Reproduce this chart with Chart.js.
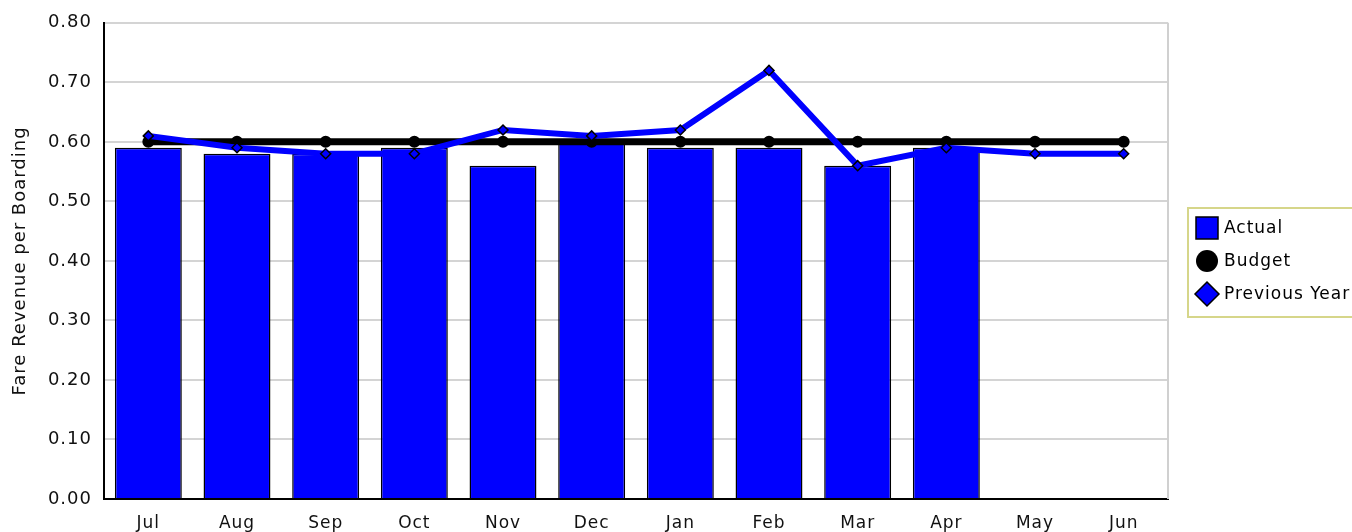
<!DOCTYPE html>
<html>
<head>
<meta charset="utf-8">
<script src="https://cdn.jsdelivr.net/npm/chart.js@4"></script>
<style>
  html, body { margin: 0; padding: 0; background: #fff; overflow: hidden; }
  #wrap { width: 1352px; height: 532px; position: relative; }
</style>
</head>
<body>
<div id="wrap"><canvas id="myChart"></canvas></div>
<script>
const months = ['Jul', 'Aug', 'Sep', 'Oct', 'Nov', 'Dec', 'Jan', 'Feb', 'Mar', 'Apr', 'May', 'Jun'];
const actual = [0.59, 0.58, 0.58, 0.59, 0.56, 0.60, 0.59, 0.59, 0.56, 0.59, null, null];
const budget = [0.60, 0.60, 0.60, 0.60, 0.60, 0.60, 0.60, 0.60, 0.60, 0.60, 0.60, 0.60];
const previousYear = [0.61, 0.59, 0.58, 0.58, 0.62, 0.61, 0.62, 0.72, 0.56, 0.59, 0.58, 0.58];

const FONT = 'DejaVu Sans';

// the old chart font is a bit wider, so space the letters out
const wideText = {
    id: 'wideText',
    beforeDraw(chart) { chart.ctx.letterSpacing = '1px'; }
};

// legend drawn by hand so the box can sit where the original one is
const boxLegend = {
    id: 'boxLegend',
    afterDraw(chart) {
        const ctx = chart.ctx;
        const area = chart.chartArea;
        const ds = chart.data.datasets;

        // right edge of the plot
        ctx.save();
        ctx.strokeStyle = '#d0d0d0';
        ctx.lineWidth = 2;
        ctx.beginPath();
        ctx.moveTo(area.right, area.top);
        ctx.lineTo(area.right, area.bottom);
        ctx.stroke();

        const x = area.right + 20, y = 208;
        ctx.fillStyle = '#fff';
        ctx.fillRect(x, y, 200, 109);
        ctx.strokeStyle = '#d6d68a';
        ctx.lineWidth = 2;
        ctx.strokeRect(x, y, 200, 109);

        ctx.font = '17px "' + FONT + '"';
        ctx.letterSpacing = '1px';
        ctx.textBaseline = 'middle';
        ds.forEach((d, i) => {
            const cy = y + 20 + i * 33;
            const cx = x + 19;
            ctx.lineWidth = 1.5;
            ctx.strokeStyle = '#000';
            if (d.type === 'bar') {
                ctx.fillStyle = d.backgroundColor;
                ctx.fillRect(cx - 11, cy - 11, 22, 22);
                ctx.strokeRect(cx - 11, cy - 11, 22, 22);
            } else if (d.pointStyle === 'circle') {
                ctx.fillStyle = d.borderColor;
                ctx.beginPath();
                ctx.arc(cx, cy, 11, 0, Math.PI * 2);
                ctx.fill();
            } else {
                ctx.fillStyle = d.borderColor;
                ctx.beginPath();
                ctx.moveTo(cx, cy - 12);
                ctx.lineTo(cx + 12, cy);
                ctx.lineTo(cx, cy + 12);
                ctx.lineTo(cx - 12, cy);
                ctx.closePath();
                ctx.fill();
                ctx.stroke();
            }
            ctx.fillStyle = '#000';
            ctx.fillText(d.label, cx + 17, cy + 1);
        });
        ctx.restore();
    }
};

const ctx = document.getElementById('myChart').getContext('2d');
window.myChart = new Chart(ctx, {
    data: {
        labels: months,
        datasets: [
            {
                type: 'bar',
                label: 'Actual',
                data: actual,
                backgroundColor: '#0000ff',
                borderColor: '#000',
                borderWidth: 1.5,
                categoryPercentage: 1,
                barPercentage: 0.755,
                order: 2
            },
            {
                type: 'line',
                label: 'Budget',
                data: budget,
                borderColor: '#000',
                backgroundColor: '#000',
                borderWidth: 7,
                pointStyle: 'circle',
                pointRadius: 2.5,
                tension: 0,
                order: 1
            },
            {
                type: 'line',
                label: 'Previous Year',
                data: previousYear,
                borderColor: '#0000ff',
                backgroundColor: '#0000ff',
                borderWidth: 6,
                pointStyle: 'rectRot',
                pointRadius: 5,
                pointBorderColor: '#000',
                pointBorderWidth: 1.5,
                tension: 0,
                order: 0
            }
        ]
    },
    options: {
        responsive: true,
        maintainAspectRatio: false,
        animation: false,
        layout: { padding: { top: 13, right: 184, left: 0, bottom: 0 } },
        plugins: {
            legend: { display: false },
            tooltip: { enabled: false }
        },
        scales: {
            x: {
                grid: { display: false, drawTicks: false },
                border: { color: '#000', width: 2 },
                ticks: { color: '#111', padding: 14, font: { family: FONT, size: 17 } },
                afterFit(scale) { scale.height = 33; }
            },
            y: {
                min: 0,
                max: 0.8,
                grid: { color: '#d4d4d4', lineWidth: 2, drawTicks: false },
                border: { color: '#000', width: 2 },
                ticks: {
                    stepSize: 0.1,
                    padding: 12,
                    color: '#111',
                    font: { family: FONT, size: 18 },
                    callback: v => v.toFixed(2)
                },
                title: {
                    display: true,
                    text: 'Fare Revenue per Boarding',
                    color: '#111',
                    padding: { top: 10, bottom: 0 },
                    font: { family: FONT, size: 18 }
                },
                afterFit(scale) { scale.width = 104; }
            }
        }
    },
    plugins: [wideText, boxLegend]
});
</script>
</body>
</html>
